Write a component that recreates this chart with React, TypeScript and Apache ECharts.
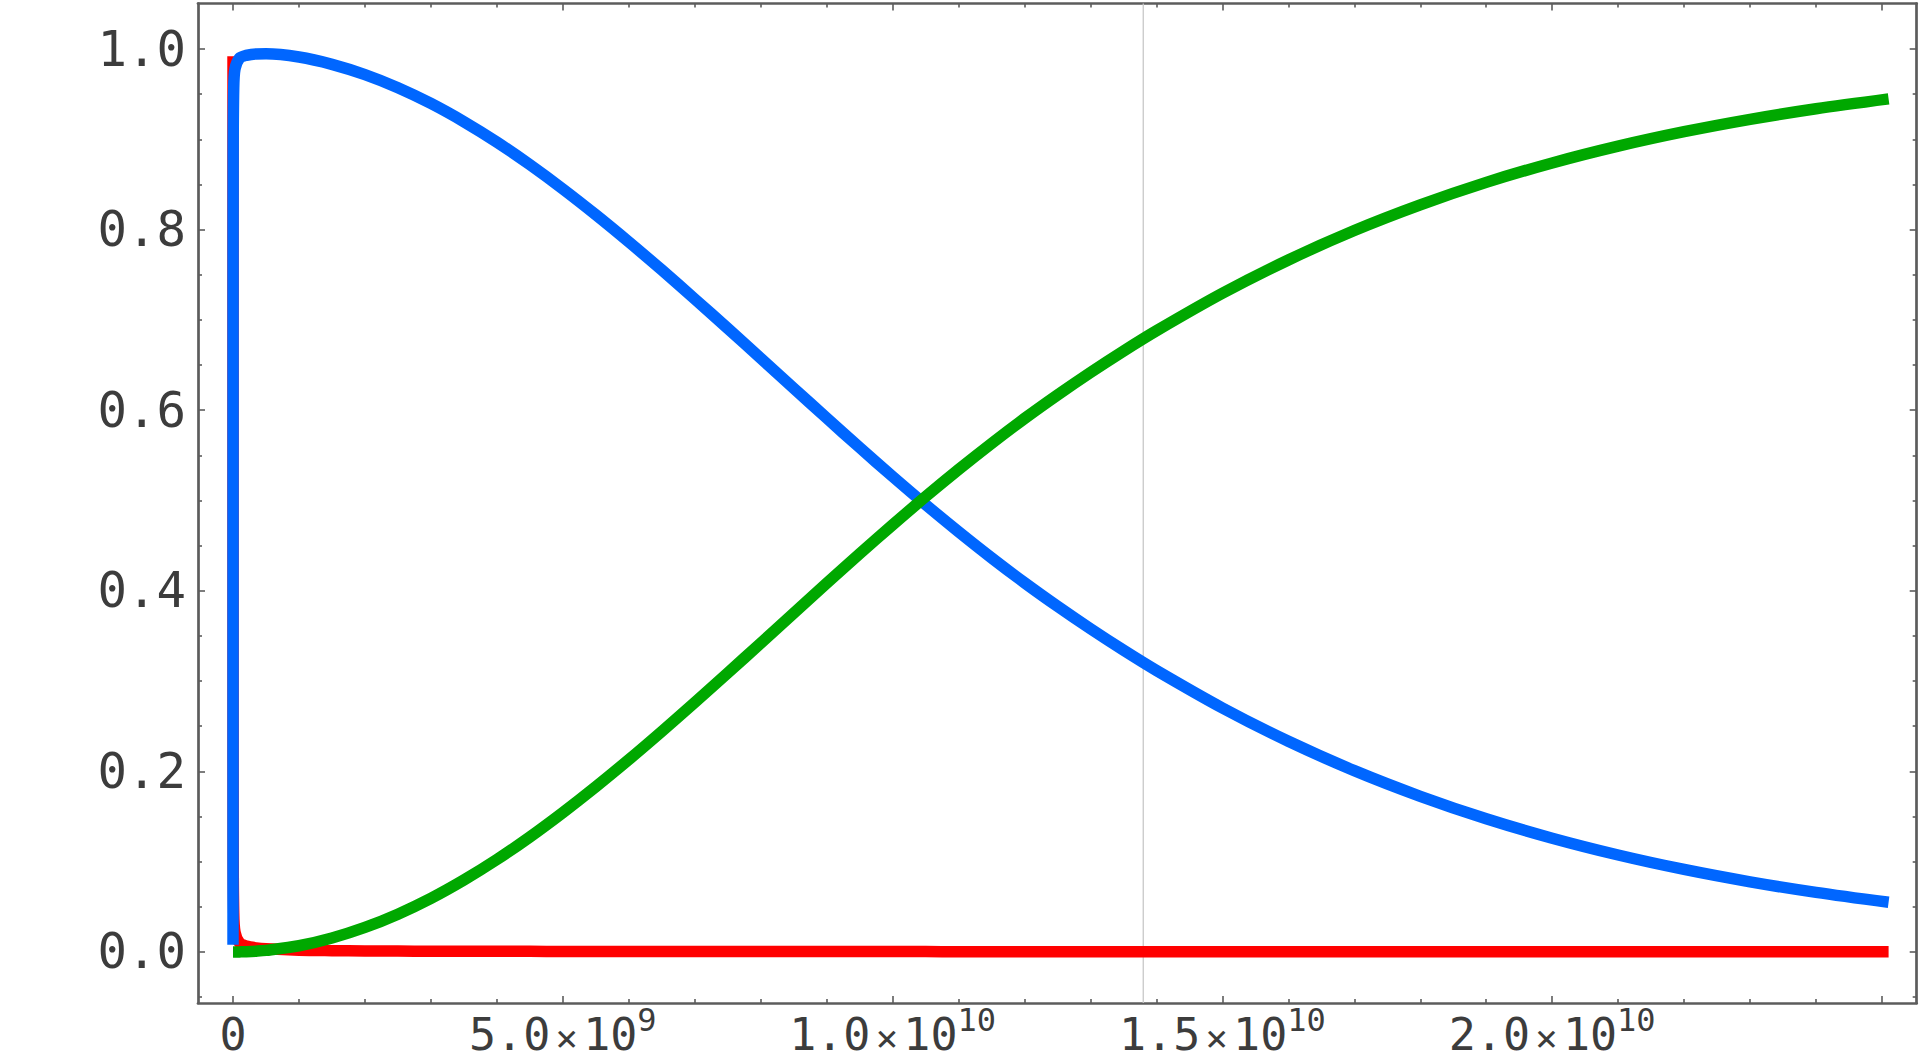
import React, { useEffect, useRef } from "react";
import * as echarts from "echarts";

// Time in units of 10^9 years
const timeGyr = [
  0, 0.0005, 0.002, 0.01, 0.03, 0.1, 0.2, 0.35, 0.5,
  1, 1.5, 2, 2.5, 3, 3.5, 4, 4.5, 5, 5.5, 6, 6.5, 7, 7.5, 8, 8.5, 9, 9.5,
  10, 10.5, 11, 11.5, 12, 12.5, 13, 13.5, 14,
  15, 16, 17, 18, 19, 20, 21, 22, 23, 24, 25.1,
];

// Radiation fraction (red)
const radiation = [
  0.992, 0.3, 0.12, 0.045, 0.022, 0.01, 0.0065, 0.0045, 0.0035,
  0.002, 0.0015, 0.0012, 0.001, 0.0009, 0.0008, 0.0007, 0.0007, 0.0006, 0.0006, 0.0006, 0.0005, 0.0005, 0.0005, 0.0005, 0.0004, 0.0004, 0.0004,
  0.0004, 0.0004, 0.0003, 0.0003, 0.0003, 0.0003, 0.0003, 0.0003, 0.0003,
  0.0003, 0.0003, 0.0002, 0.0002, 0.0002, 0.0002, 0.0002, 0.0002, 0.0002, 0.0002, 0.0002,
];

// Matter fraction (blue)
const matter = [
  0.008, 0.7, 0.88, 0.955, 0.978, 0.99, 0.993, 0.9946, 0.9947,
  0.9911, 0.983, 0.9716, 0.9571, 0.9397, 0.9195, 0.8969, 0.8719, 0.845, 0.8164, 0.7864, 0.7553, 0.7232, 0.6906, 0.6575, 0.6244, 0.5913, 0.5586,
  0.5266, 0.4954, 0.4654, 0.4365, 0.4089, 0.3828, 0.3579, 0.3342, 0.3117,
  0.2702, 0.2333, 0.2008, 0.1724, 0.1475, 0.126, 0.1074, 0.0914, 0.0777, 0.066, 0.055,
];

// Dark energy fraction (green)
const darkEnergy = [
  0, 0, 0, 0, 0, 0.0001, 0.0003, 0.0009, 0.0018,
  0.0069, 0.0155, 0.0272, 0.0419, 0.0594, 0.0797, 0.1024, 0.1274, 0.1544, 0.183, 0.213, 0.2442, 0.2763, 0.3089, 0.342, 0.3752, 0.4083, 0.441,
  0.473, 0.5042, 0.5343, 0.5632, 0.5908, 0.6169, 0.6418, 0.6655, 0.688,
  0.7295, 0.7664, 0.799, 0.8274, 0.8523, 0.8738, 0.8924, 0.9084, 0.9221, 0.9338, 0.9448,
];

// Present-day marker (Gyr)
const nowGyr = 13.8;

// Tick values
const xLabelValues = [0, 5, 10, 15, 20];
const xMajorTicks = [0, 5, 10, 15, 20, 25];
const xMinorTicks = [1, 2, 3, 4, 6, 7, 8, 9, 11, 12, 13, 14, 16, 17, 18, 19, 21, 22, 23, 24];
const yLabelValues = [0, 0.2, 0.4, 0.6, 0.8, 1.0];
const yMinorTicks = [-0.05, 0.05, 0.1, 0.15, 0.25, 0.3, 0.35, 0.45, 0.5, 0.55, 0.65, 0.7, 0.75, 0.85, 0.9, 0.95];

const X_MIN = -0.531;
const X_MAX = 25.526;
const Y_MIN = -0.0565;
const Y_MAX = 1.0504;

const FONT = "'DejaVu Sans Mono', monospace";
const AXIS_COLOR = "#5c5c5c";
const TEXT_COLOR = "#3c3c3c";

function xLabel(v: number): string {
  if (v === 0) return "{n|0}";
  const years = v * 1e9;
  const exp = Math.floor(Math.log10(years) + 1e-9);
  const mant = years / Math.pow(10, exp);
  return `{n|${mant.toFixed(1)}}{t|×}{n|10}{s|${exp}}`;
}

const zip = (ys: number[]) => timeGyr.map((t, i) => [t, ys[i]]);

export default function App() {
  const ref = useRef<HTMLDivElement>(null);
  useEffect(() => {
    if (!ref.current) return;
    const chart = echarts.init(ref.current, null, { renderer: "svg" });
    const lineStyle = { color: AXIS_COLOR, width: 2.7 };
    const tickStyle = { color: AXIS_COLOR, width: 1.6 };
    const baseX = {
      type: "value" as const,
      min: X_MIN,
      max: X_MAX,
      splitLine: { show: false },
      gridIndex: 0,
    };
    const baseY = {
      type: "value" as const,
      min: Y_MIN,
      max: Y_MAX,
      splitLine: { show: false },
      gridIndex: 0,
    };
    const lineSeries = (name: string, ys: number[], color: string, z: number) => ({
      name,
      type: "line",
      data: zip(ys),
      showSymbol: false,
      symbol: "none",
      smooth: 0.3,
      z,
      silent: true,
      lineStyle: { color, width: 11.5, cap: "butt", join: "round" },
      emphasis: { disabled: true },
    });
    chart.setOption({
      animation: false,
      backgroundColor: "#ffffff",
      grid: { left: 198, top: 3.5, width: 1718.7, height: 999.5, containLabel: false },
      xAxis: [
        {
          ...baseX,
          position: "bottom",
          axisLine: { show: true, onZero: false, lineStyle },
          axisTick: { show: true, inside: true, length: 7, customValues: xMajorTicks, lineStyle: tickStyle },
          axisLabel: {
            show: true,
            customValues: xLabelValues,
            margin: 1,
            formatter: (v: number) => xLabel(v),
            rich: {
              n: { fontFamily: FONT, fontSize: 45, color: TEXT_COLOR, lineHeight: 53, verticalAlign: "bottom" },
              t: { fontFamily: FONT, fontSize: 38, color: TEXT_COLOR, lineHeight: 53, padding: [0, 5, 0, 5], verticalAlign: "bottom" },
              s: { fontFamily: FONT, fontSize: 32, color: TEXT_COLOR, lineHeight: 32, verticalAlign: "top" },
            },
          },
        },
        {
          ...baseX,
          position: "top",
          axisLine: { show: true, onZero: false, lineStyle },
          axisTick: { show: true, inside: true, length: 7, customValues: xMajorTicks, lineStyle: tickStyle },
          axisLabel: { show: false },
        },
        {
          ...baseX,
          position: "bottom",
          axisLine: { show: false, onZero: false },
          axisTick: { show: true, inside: true, length: 4, customValues: xMinorTicks, lineStyle: tickStyle },
          axisLabel: { show: false },
        },
        {
          ...baseX,
          position: "top",
          axisLine: { show: false, onZero: false },
          axisTick: { show: true, inside: true, length: 4, customValues: xMinorTicks, lineStyle: tickStyle },
          axisLabel: { show: false },
        },
      ],
      yAxis: [
        {
          ...baseY,
          position: "left",
          axisLine: { show: true, onZero: false, lineStyle },
          axisTick: { show: true, inside: true, length: 7, customValues: yLabelValues, lineStyle: tickStyle },
          axisLabel: {
            show: true,
            customValues: yLabelValues,
            margin: 12,
            fontFamily: FONT,
            fontSize: 49,
            color: TEXT_COLOR,
            formatter: (v: number) => v.toFixed(1),
          },
        },
        {
          ...baseY,
          position: "right",
          axisLine: { show: true, onZero: false, lineStyle },
          axisTick: { show: true, inside: true, length: 7, customValues: yLabelValues, lineStyle: tickStyle },
          axisLabel: { show: false },
        },
        {
          ...baseY,
          position: "left",
          axisLine: { show: false, onZero: false },
          axisTick: { show: true, inside: true, length: 4, customValues: yMinorTicks, lineStyle: tickStyle },
          axisLabel: { show: false },
        },
        {
          ...baseY,
          position: "right",
          axisLine: { show: false, onZero: false },
          axisTick: { show: true, inside: true, length: 4, customValues: yMinorTicks, lineStyle: tickStyle },
          axisLabel: { show: false },
        },
      ],
      series: [
        {
          name: "now",
          type: "line",
          data: [
            [nowGyr, Y_MIN],
            [nowGyr, Y_MAX],
          ],
          showSymbol: false,
          symbol: "none",
          z: 1,
          silent: true,
          lineStyle: { color: "#c8c8c8", width: 1.3 },
          emphasis: { disabled: true },
        },
        lineSeries("Radiation", radiation, "#ff0000", 2),
        lineSeries("Matter", matter, "#0066ff", 3),
        lineSeries("Dark energy", darkEnergy, "#00a800", 4),
      ],
    });
    return () => chart.dispose();
  }, []);
  return (
    <div
      ref={ref}
      style={{ position: "absolute", left: 0, top: 0, width: 1920, height: 1060, background: "#fff" }}
    />
  );
}
